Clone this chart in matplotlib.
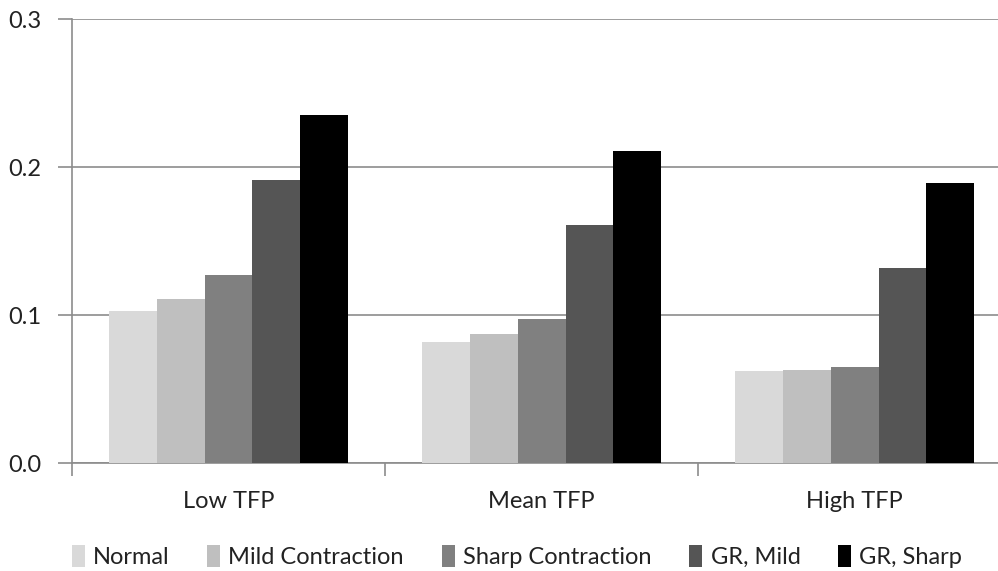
import matplotlib
matplotlib.use("Agg")
import matplotlib.pyplot as plt
import numpy as np

categories = ["Low TFP", "Mean TFP", "High TFP"]
series_names = ["Normal", "Mild Contraction", "Sharp Contraction", "GR, Mild", "GR, Sharp"]
normal = [0.103, 0.082, 0.062]
mild_contraction = [0.111, 0.087, 0.063]
sharp_contraction = [0.127, 0.097, 0.065]
gr_mild = [0.191, 0.161, 0.132]
gr_sharp = [0.235, 0.211, 0.189]
colors = ["#d9d9d9", "#bfbfbf", "#808080", "#555555", "#000000"]
yticks = [0.0, 0.1, 0.2, 0.3]

plt.rcParams['font.family'] = ['Lato', 'DejaVu Sans']

fig = plt.figure(figsize=(9.98, 5.71), dpi=100)
ax = fig.add_axes([72/998, (571-463)/571, 1 - 72/998, (463-19)/571])

data = [normal, mild_contraction, sharp_contraction, gr_mild, gr_sharp]
x = np.arange(len(categories))
bw = 0.153
for i, (vals, name, c) in enumerate(zip(data, series_names, colors)):
    ax.bar(x + (i - 2) * bw, vals, width=bw, color=c, label=name, zorder=3)

ax.set_ylim(0, 0.3)
ax.set_xlim(-0.5, 2.458)
ax.set_yticks(yticks)
ax.set_yticklabels(["%.1f" % v for v in yticks])
ax.yaxis.grid(True, color="#8c8c8c", linewidth=1.2, zorder=0)
ax.set_axisbelow(True)

ax.set_xticks([-0.5, 0.5, 1.5])
ax.set_xticklabels([])
ax.set_xticks(x, minor=True)
ax.set_xticklabels(categories, minor=True)
ax.tick_params(axis="x", which="minor", length=0, pad=20, labelsize=17, labelcolor="#222222")
ax.tick_params(axis="x", which="major", length=9, color="#8c8c8c", width=1.2)
ax.tick_params(axis="y", length=10, color="#8c8c8c", width=1.2, labelsize=17, labelcolor="#222222", pad=12)

for s in ["top", "right"]:
    ax.spines[s].set_visible(False)
for s in ["left", "bottom"]:
    ax.spines[s].set_color("#8c8c8c")
    ax.spines[s].set_linewidth(1.2)

fig.legend(loc="lower center", bbox_to_anchor=(0.518, -0.032), ncol=5, frameon=False,
           fontsize=17, handlelength=0.55, handleheight=1.0, handletextpad=0.35,
           columnspacing=1.6, labelcolor="#222222")

fig.savefig("out.png", dpi=100)
